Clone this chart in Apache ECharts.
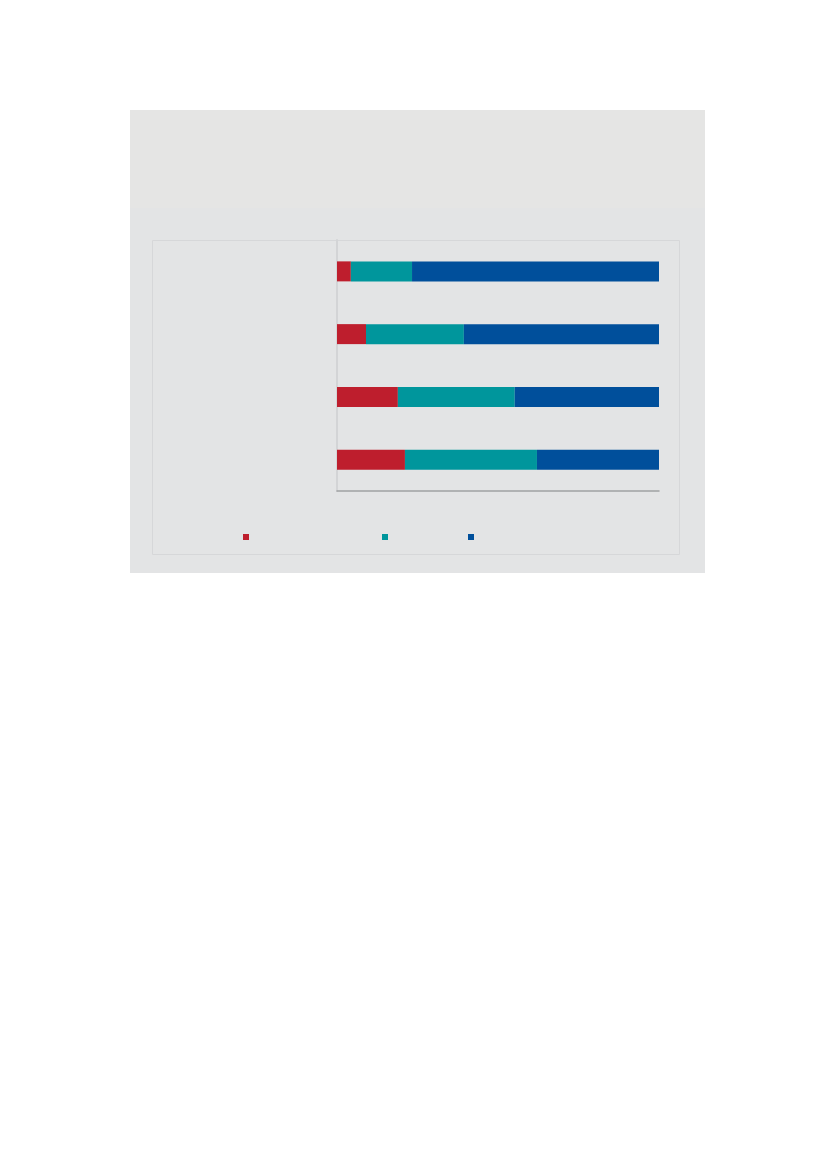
<!DOCTYPE html>
<html lang="en">
<head>
    <meta charset="UTF-8">
    <title>Stacked bars</title>
    <script src="https://cdn.jsdelivr.net/npm/echarts@6/dist/echarts.min.js"></script>
    <style>
        html, body { margin: 0; padding: 0; background: #ffffff; }
        #main { width: 827px; height: 1169px; }
    </style>
</head>
<body>
    <div id="main"></div>
    <script type="text/javascript">
        // data (shares, percent, top row first)
        var categories = ['A', 'B', 'C', 'D'];
        var seriesNames = ['S1', 'S2', 'S3'];
        var redValues = [4.3, 9.0, 18.9, 21.1];
        var tealValues = [19.0, 30.4, 36.3, 41.0];
        var blueValues = [76.7, 60.6, 44.8, 37.9];
        var colors = ['#be1e2d', '#00969c', '#004f9b'];

        var myChart = echarts.init(document.getElementById('main'));

        // one small legend per item so the squares sit where they do in the picture
        var legendLeft = [238, 377, 463];
        var legends = seriesNames.map(function (n, i) {
            return {
                data: [n],
                left: legendLeft[i],
                top: 529,
                itemWidth: 6,
                itemHeight: 6,
                icon: 'rect',
                selectedMode: false,
                formatter: function () { return ''; },
                textStyle: { fontSize: 1 }
            };
        });

        var allValues = [redValues, tealValues, blueValues];
        var series = seriesNames.map(function (n, i) {
            return {
                name: n,
                type: 'bar',
                stack: 'total',
                barWidth: 20,
                itemStyle: { color: colors[i] },
                data: allValues[i]
            };
        });

        var option = {
            animation: false,
            color: colors,
            graphic: [
                { type: 'rect', z: -10, shape: { x: 130, y: 110, width: 575, height: 463 }, style: { fill: '#e3e4e5' } },
                { type: 'rect', z: -9, shape: { x: 130, y: 110, width: 575, height: 98 }, style: { fill: '#e5e5e4' } },
                { type: 'rect', z: -8, shape: { x: 152.5, y: 240.5, width: 527, height: 314 }, style: { fill: 'none', stroke: '#d6d7d9', lineWidth: 1 } }
            ],
            legend: legends,
            grid: {
                left: 337,
                right: 168,
                top: 240,
                bottom: 678
            },
            xAxis: {
                type: 'value',
                min: 0,
                max: 100,
                axisLine: { show: true, lineStyle: { color: '#a0a1a3', width: 1.5 } },
                axisTick: { show: false },
                axisLabel: { show: false },
                splitLine: { show: false }
            },
            yAxis: {
                type: 'category',
                inverse: true,
                data: categories,
                axisLine: { show: true, lineStyle: { color: '#d3d4d6', width: 2 } },
                axisTick: { show: false },
                axisLabel: { show: false }
            },
            series: series
        };
        myChart.setOption(option);
    </script>
</body>
</html>
